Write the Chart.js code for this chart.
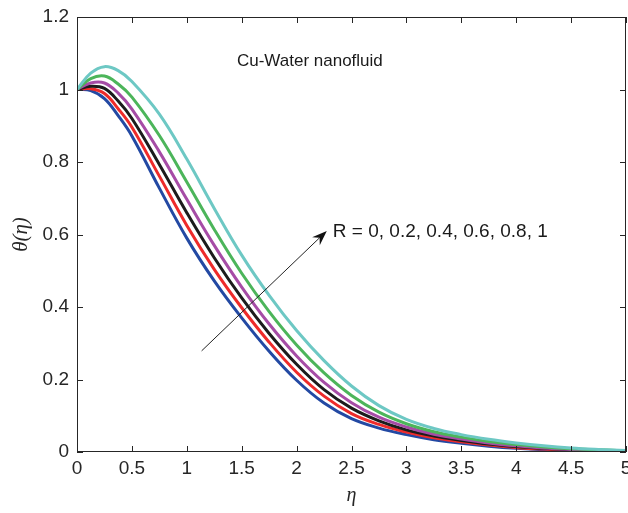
<!DOCTYPE html>
<html>
<head>
<meta charset="utf-8">
<script src="https://cdn.jsdelivr.net/npm/chart.js@4.4.1/dist/chart.umd.min.js"></script>
<style>
  html, body { margin: 0; padding: 0; background: #fff; }
  #wrap { width: 628px; height: 513px; }
</style>
</head>
<body>
<div id="wrap"><canvas id="chart" width="628" height="513"></canvas></div>
<script>
// eta grid and theta(eta), one array per R
var eta = [0, 0.125, 0.25, 0.375, 0.5, 0.75, 1, 1.25, 1.5, 1.75, 2, 2.25, 2.5, 2.75, 3, 3.25, 3.5, 3.75, 4, 4.25, 4.5, 4.75, 5];
var thetaR0  = [1.000, 0.997, 0.975, 0.928, 0.872, 0.728, 0.590, 0.472, 0.370, 0.278, 0.198, 0.135, 0.092, 0.066, 0.048, 0.034, 0.024, 0.016, 0.010, 0.006, 0.004, 0.002, 0.001];
var thetaR02 = [1.000, 1.002, 0.989, 0.947, 0.896, 0.761, 0.625, 0.504, 0.398, 0.303, 0.220, 0.154, 0.106, 0.076, 0.055, 0.039, 0.028, 0.019, 0.012, 0.008, 0.005, 0.003, 0.001];
var thetaR04 = [1.000, 1.009, 1.003, 0.968, 0.920, 0.793, 0.660, 0.536, 0.425, 0.327, 0.242, 0.172, 0.121, 0.086, 0.061, 0.044, 0.032, 0.022, 0.015, 0.010, 0.006, 0.004, 0.002];
var thetaR06 = [1.000, 1.018, 1.018, 0.990, 0.946, 0.828, 0.697, 0.570, 0.455, 0.353, 0.265, 0.192, 0.136, 0.096, 0.069, 0.049, 0.036, 0.025, 0.017, 0.011, 0.007, 0.004, 0.002];
var thetaR08 = [1.000, 1.030, 1.037, 1.015, 0.979, 0.873, 0.745, 0.614, 0.493, 0.387, 0.295, 0.218, 0.156, 0.110, 0.078, 0.056, 0.041, 0.029, 0.021, 0.014, 0.009, 0.006, 0.003];
var thetaR1  = [1.000, 1.045, 1.063, 1.052, 1.022, 0.932, 0.808, 0.672, 0.543, 0.432, 0.335, 0.252, 0.182, 0.128, 0.090, 0.065, 0.048, 0.035, 0.025, 0.017, 0.011, 0.007, 0.004];

var rLabels = ['R = 0', 'R = 0.2', 'R = 0.4', 'R = 0.6', 'R = 0.8', 'R = 1'];
var seriesList = [thetaR0, thetaR02, thetaR04, thetaR06, thetaR08, thetaR1];
var colors = ['#2349a3', '#ee2b2b', '#1c1c1c', '#a64ca6', '#4cb55a', '#6dc8c4'];

// annotation anchors in data units
var arrowFrom = [1.135, 0.279];
var arrowTo = [2.275, 0.610];
var rNote = 'R = 0, 0.2, 0.4, 0.6, 0.8, 1';
var rNoteAt = [2.33, 0.607];
var fluidNote = 'Cu-Water nanofluid';
var fluidNoteAt = [1.457, 1.079];

var datasets = seriesList.map(function(s, i) {
    return {
        label: rLabels[i],
        data: eta.map(function(x, j) { return { x: x, y: s[j] }; }),
        borderColor: colors[i],
        borderWidth: 3,
        pointRadius: 0,
        fill: false,
        tension: 0.4,
        order: seriesList.length - i
    };
});

function plainNum(v) { return String(Number(v.toFixed(2))); }

var frame = {
    id: 'frame',
    afterDatasetsDraw: function(chart) {
        var ctx = chart.ctx, a = chart.chartArea;
        var xs = chart.scales.x, ys = chart.scales.y;
        ctx.save();
        ctx.strokeStyle = '#262626';
        ctx.lineWidth = 1;
        ctx.strokeRect(Math.round(a.left) + 0.5, Math.round(a.top) + 0.5,
            Math.round(a.right - a.left) - 1, Math.round(a.bottom - a.top) - 1);
        ctx.beginPath();
        xs.ticks.forEach(function(t) {
            var px = Math.round(xs.getPixelForValue(t.value)) + 0.5;
            ctx.moveTo(px, a.bottom); ctx.lineTo(px, a.bottom - 6);
            ctx.moveTo(px, a.top); ctx.lineTo(px, a.top + 6);
        });
        ys.ticks.forEach(function(t) {
            var py = Math.round(ys.getPixelForValue(t.value)) + 0.5;
            ctx.moveTo(a.left, py); ctx.lineTo(a.left + 6, py);
            ctx.moveTo(a.right, py); ctx.lineTo(a.right - 6, py);
        });
        ctx.stroke();

        // arrow
        var x0 = xs.getPixelForValue(arrowFrom[0]), y0 = ys.getPixelForValue(arrowFrom[1]);
        var x1 = xs.getPixelForValue(arrowTo[0]), y1 = ys.getPixelForValue(arrowTo[1]);
        var ang = Math.atan2(y1 - y0, x1 - x0);
        var L = 15, W = 5.5;
        ctx.strokeStyle = '#222';
        ctx.lineWidth = 1;
        ctx.beginPath();
        ctx.moveTo(x0, y0);
        ctx.lineTo(x1 - Math.cos(ang) * 10, y1 - Math.sin(ang) * 10);
        ctx.stroke();
        ctx.fillStyle = '#111';
        ctx.beginPath();
        ctx.moveTo(x1, y1);
        ctx.lineTo(x1 - L * Math.cos(ang) + W * Math.sin(ang), y1 - L * Math.sin(ang) - W * Math.cos(ang));
        ctx.lineTo(x1 - 10 * Math.cos(ang), y1 - 10 * Math.sin(ang));
        ctx.lineTo(x1 - L * Math.cos(ang) - W * Math.sin(ang), y1 - L * Math.sin(ang) + W * Math.cos(ang));
        ctx.closePath();
        ctx.fill();

        ctx.fillStyle = '#1a1a1a';
        ctx.textBaseline = 'middle';
        ctx.textAlign = 'left';
        ctx.font = '19px "Liberation Sans", Arial, sans-serif';
        ctx.fillText(rNote, xs.getPixelForValue(rNoteAt[0]), ys.getPixelForValue(rNoteAt[1]));
        ctx.font = '17px "Liberation Sans", Arial, sans-serif';
        ctx.fillText(fluidNote, xs.getPixelForValue(fluidNoteAt[0]), ys.getPixelForValue(fluidNoteAt[1]));
        ctx.restore();
    }
};

new Chart(document.getElementById('chart').getContext('2d'), {
    type: 'line',
    data: { datasets: datasets },
    options: {
        responsive: false,
        animation: false,
        layout: { padding: { top: 17, right: 2, left: 0, bottom: 0 } },
        plugins: { legend: { display: false }, tooltip: { enabled: false } },
        scales: {
            x: {
                type: 'linear', min: 0, max: 5,
                grid: { display: false, drawTicks: false },
                border: { display: false },
                ticks: { stepSize: 0.5, padding: 5, color: '#262626', callback: plainNum,
                    font: { family: '"Liberation Sans", Arial, sans-serif', size: 19 }, maxRotation: 0 },
                title: { display: true, text: 'η', color: '#262626', padding: { bottom: 5 },
                    font: { family: '"Liberation Serif", "Times New Roman", serif', size: 20, style: 'italic' } },
                afterFit: function(s) { s.height = 61; s.paddingLeft = 0; s.paddingRight = 0; }
            },
            y: {
                min: 0, max: 1.2,
                grid: { display: false, drawTicks: false },
                border: { display: false },
                ticks: { stepSize: 0.2, padding: 8, color: '#262626', callback: plainNum,
                    font: { family: '"Liberation Sans", Arial, sans-serif', size: 19 } },
                title: { display: true, text: 'θ(η)', color: '#262626', padding: { top: 9 },
                    font: { family: '"Liberation Serif", "Times New Roman", serif', size: 21, style: 'italic' } },
                afterFit: function(s) { s.width = 77; s.paddingTop = 0; s.paddingBottom = 0; }
            }
        }
    },
    plugins: [frame]
});
</script>
</body>
</html>
